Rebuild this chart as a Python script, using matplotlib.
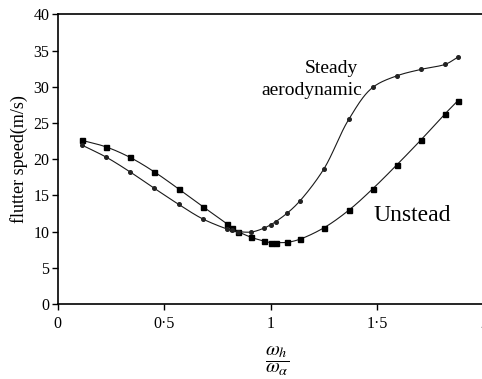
import numpy as np
import matplotlib
matplotlib.use("Agg")
import matplotlib.pyplot as plt

# Frequency ratio omega_h / omega_alpha
freq_ratio = [0.113, 0.226, 0.339, 0.453, 0.567, 0.681, 0.794, 0.818, 0.847,
              0.909, 0.966, 1.000, 1.023, 1.078, 1.135, 1.248, 1.366, 1.478,
              1.591, 1.706, 1.819, 1.877]

# Flutter speed (m/s), unsteady aerodynamic model
unsteady_speed = [22.6, 21.7, 20.25, 18.25, 15.9, 13.45, 11.1, 10.55, 10.0,
                  9.2, 8.7, 8.47, 8.47, 8.52, 8.93, 10.5, 12.95, 15.9,
                  19.2, 22.7, 26.3, 28.05]

# Flutter speed (m/s), steady aerodynamic model
steady_speed = [21.95, 20.3, 18.25, 15.98, 13.77, 11.74, 10.36, 10.15, 10.0,
                9.94, 10.45, 10.95, 11.37, 12.57, 14.18, 18.6, 25.5, 29.9,
                31.5, 32.4, 33.1, 34.07]

x_ticks = [0, 0.5, 1, 1.5, 2]
x_tick_labels = ["0", "0·5", "1", "1·5", "2"]
y_ticks = list(range(0, 41, 5))


def smooth_curve(xs, ys, n=30, alpha=0.5):
    """Centripetal Catmull-Rom spline through the given points."""
    pts = np.column_stack([xs, ys]).astype(float)
    # scale y so both axes carry similar weight when measuring chord lengths
    scale = np.array([1.0, 0.05])
    p = np.vstack([2 * pts[0] - pts[1], pts, 2 * pts[-1] - pts[-2]])
    out = []
    for i in range(1, len(p) - 2):
        p0, p1, p2, p3 = p[i - 1], p[i], p[i + 1], p[i + 2]
        def tj(ti, a, b):
            d = np.linalg.norm((b - a) * scale)
            return ti + max(d, 1e-9) ** alpha
        t0 = 0.0
        t1 = tj(t0, p0, p1)
        t2 = tj(t1, p1, p2)
        t3 = tj(t2, p2, p3)
        t = np.linspace(t1, t2, n)[:, None]
        a1 = (t1 - t) / (t1 - t0) * p0 + (t - t0) / (t1 - t0) * p1
        a2 = (t2 - t) / (t2 - t1) * p1 + (t - t1) / (t2 - t1) * p2
        a3 = (t3 - t) / (t3 - t2) * p2 + (t - t2) / (t3 - t2) * p3
        b1 = (t2 - t) / (t2 - t0) * a1 + (t - t0) / (t2 - t0) * a2
        b2 = (t3 - t) / (t3 - t1) * a2 + (t - t1) / (t3 - t1) * a3
        c = (t2 - t) / (t2 - t1) * b1 + (t - t1) / (t2 - t1) * b2
        out.append(c if i == len(p) - 3 else c[:-1])
    c = np.vstack(out)
    return c[:, 0], c[:, 1]


plt.rcParams["font.family"] = ["Liberation Serif", "DejaVu Serif"]
plt.rcParams["mathtext.fontset"] = "stix"

fig = plt.figure(figsize=(4.82, 3.79), dpi=100)
ax = fig.add_axes([0.1197, 0.1979, 0.8843, 0.7644])

line_color = "#1a1a1a"

sx, sy = smooth_curve(freq_ratio, unsteady_speed)
ax.plot(sx, sy, color=line_color, lw=0.8)
ax.plot(freq_ratio, unsteady_speed, ls="none", marker="s", ms=3.6,
        color="black")

sx, sy = smooth_curve(freq_ratio, steady_speed)
ax.plot(sx, sy, color=line_color, lw=0.8)
ax.plot(freq_ratio, steady_speed, ls="none", marker="o", ms=2.6,
        color="#222222")

ax.set_xlim(0, 2)
ax.set_ylim(0, 40)
ax.set_xticks(x_ticks)
ax.set_xticklabels(x_tick_labels)
ax.set_yticks(y_ticks)
ax.tick_params(direction="out", length=4, width=1.0, labelsize=11.5,
               pad=2, colors="black")
ax.tick_params(axis="x", pad=5)
for side in ("left", "bottom", "top", "right"):
    ax.spines[side].set_linewidth(1.2)

ax.set_ylabel("flutter speed(m/s)", fontsize=13, labelpad=4)
fig.text(277 / 482, 1 - 361 / 379, r"$\dfrac{\omega_h}{\omega_\alpha}$",
         ha="center", va="center", fontsize=14.5)

ax.text(1.284, 31.95, "Steady", ha="center", va="baseline", fontsize=14)
ax.text(1.192, 28.87, "aerodynamic", ha="center", va="baseline", fontsize=14)
ax.text(1.48, 11.46, "Unstead", ha="left", va="baseline", fontsize=17)

fig.savefig("out.png", dpi=100)
